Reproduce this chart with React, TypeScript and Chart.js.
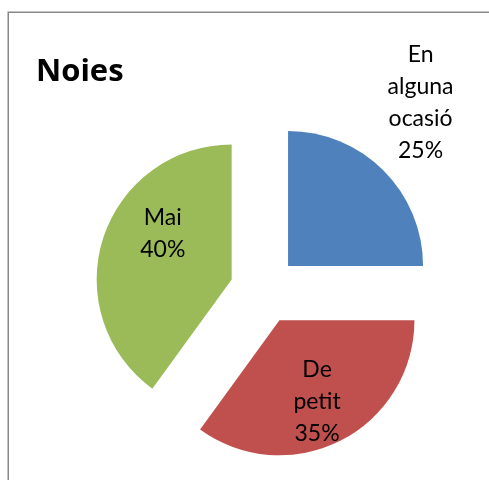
import React, { useEffect, useRef } from "react";
import { Chart, registerables } from "chart.js";

Chart.register(...registerables);

// Survey answers for girls ("Noies")
const categories = ["En alguna ocasió", "De petit", "Mai"];
const shares = [25, 35, 40];
const sliceColors = ["#4F81BD", "#C0504D", "#9BBB59"];
const chartTitle = "Noies";

// Label placement around each exploded slice: radius factor from the slice tip and angle shift (deg)
const labelRadius = [1.56, 0.66, 0.615];
const labelAngleShift = [-6, 2, 16];

const EXPLODE = 34; // px each slice is pulled out from the centre
const RADIUS = 135;
const LABEL_FONT = "23px Lato, 'Noto Sans', sans-serif";
const LINE_H = 32;

const total = shares.reduce((a, b) => a + b, 0);

// Pull every slice out along its bisector by the same distance, keeping its radius
const explodePlugin = {
  id: "explode",
  afterDatasetUpdate(chart: any, args: any) {
    const meta = chart.getDatasetMeta(args.index);
    const area = chart.chartArea;
    const cx = (area.left + area.right) / 2;
    const cy = (area.top + area.bottom) / 2;
    meta.data.forEach((arc: any) => {
      const mid = (arc.startAngle + arc.endAngle) / 2;
      arc.x = cx + Math.cos(mid) * EXPLODE;
      arc.y = cy + Math.sin(mid) * EXPLODE;
    });
  },
};

const framePlugin = {
  id: "frame",
  beforeDraw(chart: any) {
    const { ctx } = chart;
    ctx.save();
    ctx.fillStyle = "#ffffff";
    ctx.fillRect(0, 0, chart.width, chart.height);
    ctx.strokeStyle = "#888888";
    ctx.lineWidth = 1.5;
    ctx.strokeRect(8.25, 12.25, chart.width + 20, chart.height + 20);
    ctx.fillStyle = "#000000";
    ctx.font = "bold 31px 'Open Sans', Lato, sans-serif";
    ctx.textAlign = "left";
    ctx.textBaseline = "alphabetic";
    ctx.fillText(chartTitle, 36, 81);
    ctx.restore();
  },
};

const sliceLabelPlugin = {
  id: "sliceLabels",
  afterDatasetsDraw(chart: any) {
    const { ctx } = chart;
    const meta = chart.getDatasetMeta(0);
    ctx.save();
    ctx.font = LABEL_FONT;
    ctx.fillStyle = "#000000";
    ctx.textAlign = "center";
    ctx.textBaseline = "alphabetic";
    meta.data.forEach((arc: any, i: number) => {
      const { x, y, startAngle, endAngle, outerRadius } = arc;
      const mid = (startAngle + endAngle) / 2;
      const a = mid + (labelAngleShift[i] * Math.PI) / 180;
      const lx = x + Math.cos(a) * outerRadius * labelRadius[i];
      const ly = y + Math.sin(a) * outerRadius * labelRadius[i];
      const pct = Math.round((shares[i] / total) * 100) + "%";
      const lines = [...categories[i].split(" "), pct];
      const n = lines.length;
      lines.forEach((line, k) => {
        const baseY = ly + (k - (n - 1) / 2) * LINE_H + 8;
        ctx.fillText(line, lx, baseY);
      });
    });
    ctx.restore();
  },
};

export default function App() {
  const canvasRef = useRef<HTMLCanvasElement | null>(null);

  useEffect(() => {
    if (!canvasRef.current) return;
    const chart = new Chart(canvasRef.current, {
      type: "pie",
      data: {
        labels: categories,
        datasets: [
          {
            data: shares,
            backgroundColor: sliceColors,
            borderWidth: 0,
            offset: 0,
            hoverOffset: 0,
          },
        ],
      },
      options: {
        responsive: false,
        animation: false,
        radius: RADIUS,
        layout: { padding: { left: 39, right: 0, top: 100, bottom: 0 } },
        plugins: {
          legend: { display: false },
          title: { display: false },
          tooltip: { enabled: false },
        },
        events: [],
      },
      plugins: [framePlugin, explodePlugin, sliceLabelPlugin],
    });
    return () => chart.destroy();
  }, []);

  return (
    <div style={{ position: "absolute", left: 0, top: 0, width: 489, height: 480 }}>
      <canvas ref={canvasRef} width={489} height={480} style={{ display: "block" }} />
    </div>
  );
}
